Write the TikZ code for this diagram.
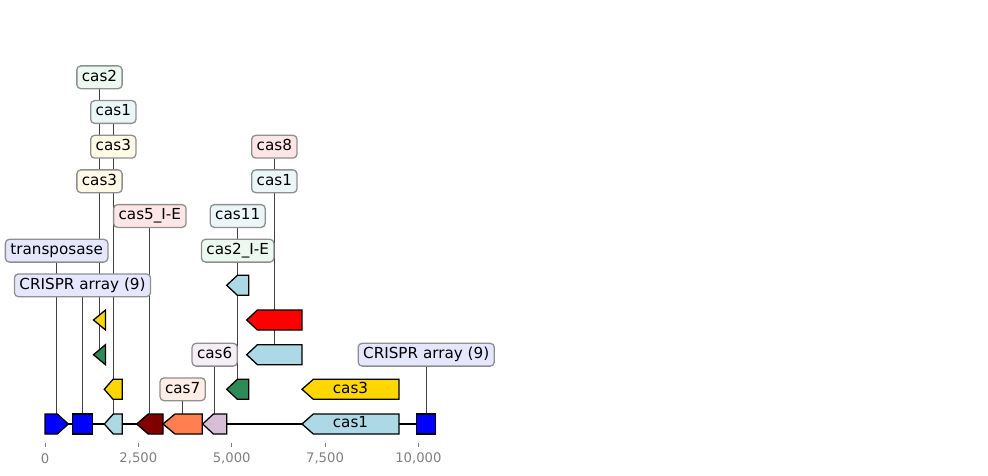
\documentclass[tikz,border=0pt]{standalone}
\usepackage{fontspec}
\setmainfont{DejaVu Sans}
\pgfdeclarelayer{bg}
\pgfsetlayers{bg,main}
\definecolor{fblue}{HTML}{0000FF}
\definecolor{flightblue}{HTML}{ADD8E6}
\definecolor{fmaroon}{HTML}{800000}
\definecolor{fcoral}{HTML}{FF7F50}
\definecolor{fthistle}{HTML}{D8BFD8}
\definecolor{fgold}{HTML}{FFD700}
\definecolor{fgreen}{HTML}{2E8B57}
\definecolor{fred}{HTML}{FF0000}
\definecolor{bblue}{HTML}{E6E6FF}
\definecolor{blightblue}{HTML}{EBF6F9}
\definecolor{bmaroon}{HTML}{FFE6E6}
\definecolor{bcoral}{HTML}{FFEDE6}
\definecolor{bthistle}{HTML}{F5EFF5}
\definecolor{bgold}{HTML}{FFFAE6}
\definecolor{bgreen}{HTML}{ECF9F1}
\definecolor{bred}{HTML}{FFE6E6}
\definecolor{boxedge}{HTML}{8F8F8F}
\definecolor{tickgray}{HTML}{808080}
\newcommand{\revfeat}[6]{%
  \draw[featline,fill=#6] (#2,#4) -- ({#2+#5},{#4-10}) -- (#3,{#4-10}) -- (#3,{#4+10}) -- ({#2+#5},{#4+10}) -- cycle;
  \coordinate (#1) at ({(#2+#3)/2},#4);}
\newcommand{\fwdfeat}[6]{%
  \draw[featline,fill=#6] (#2,{#4-10}) -- ({#3-#5},{#4-10}) -- (#3,#4) -- ({#3-#5},{#4+10}) -- (#2,{#4+10}) -- cycle;
  \coordinate (#1) at ({(#2+#3)/2},#4);}
\newcommand{\boxfeat}[5]{%
  \draw[featline,fill=#5] (#2,{#4-10}) rectangle (#3,{#4+10});
  \coordinate (#1) at ({(#2+#3)/2},#4);}
\tikzset{
  featline/.style={draw=black,line width=1.3pt,line join=miter},
  lab/.style={draw=boxedge,line width=1.3pt,rounded corners=4pt,inner xsep=5pt,inner ysep=4pt,
    text height=11.2pt,text depth=3.6pt,font=\fontsize{15.2}{18}\selectfont},
  inl/.style={inner sep=0pt,text height=11.2pt,text depth=3.6pt,font=\fontsize{15.2}{18}\selectfont},
  conn/.style={draw=black!75,line width=0.8pt},
  seqline/.style={draw=black,line width=2pt},
  ticklab/.style={text=tickgray,font=\fontsize{13.2}{16}\selectfont,inner sep=0pt},
  tickmark/.style={draw=tickgray,line width=1pt}
}
\begin{document}
\begin{tikzpicture}[x=1pt,y=-1pt]
\useasboundingbox (0,0) rectangle (988,476);
% sequence line
\coordinate (seqstart) at (45,424);
\coordinate (seqend) at (435.7,424);
\begin{pgfonlayer}{bg}
\draw[seqline] (seqstart) -- (seqend);
\end{pgfonlayer}
% row 1
\fwdfeat{fA}{45}{68.3}{424}{11}{fblue}
\boxfeat{fB}{72.7}{92.3}{424}{fblue}
\revfeat{fC}{104.3}{122.3}{424}{9}{flightblue}
\revfeat{fD}{136.7}{163}{424}{11.5}{fmaroon}
\revfeat{fE}{163}{202.3}{424}{12}{fcoral}
\revfeat{fF}{202.7}{226.7}{424}{10.7}{fthistle}
\revfeat{fG}{302}{399}{424}{11.3}{flightblue}
\boxfeat{fH}{416.7}{435.7}{424}{fblue}
% row 2
\revfeat{gA}{104.3}{122.3}{389.3}{8.7}{fgold}
\revfeat{gB}{226.7}{248.7}{389.3}{10.7}{fgreen}
\revfeat{gC}{302}{399}{389.3}{11.3}{fgold}
% row 3
\revfeat{hA}{93.5}{105.5}{354.7}{12}{fgreen}
\revfeat{hB}{246.7}{302}{354.7}{10.7}{flightblue}
% row 4
\revfeat{iA}{93.5}{105.5}{320}{12}{fgold}
\revfeat{iB}{246.7}{302}{320}{10.7}{fred}
% row 5
\revfeat{jA}{226.7}{248.7}{285.3}{10.7}{flightblue}
% inline labels
\node[inl] (tG) at (fG) {cas1};
\node[inl] (tgC) at (gC) {cas3};
% labels
\node[lab,fill=bgreen] (l1) at (99.5,77.3) {cas2};
\node[lab,fill=blightblue] (l2) at (113.3,112) {cas1};
\node[lab,fill=bgold] (l3) at (113.3,146.7) {cas3};
\node[lab,fill=bgold] (l4) at (99.5,181.3) {cas3};
\node[lab,fill=bmaroon] (l5) at (149.85,216) {cas5\_I-E};
\node[lab,fill=bblue] (l6) at (56.65,250.7) {transposase};
\node[lab,fill=bblue] (l7) at (82.5,285.3) {CRISPR array (9)};
\node[lab,fill=bred] (l8) at (274.35,146.7) {cas8};
\node[lab,fill=blightblue] (l9) at (274.35,181.3) {cas1};
\node[lab,fill=blightblue] (l10) at (237.7,216) {cas11};
\node[lab,fill=bgreen] (l11) at (237.7,250.7) {cas2\_I-E};
\node[lab,fill=bthistle] (l12) at (214.7,354.7) {cas6};
\node[lab,fill=bcoral] (l13) at (182.65,389.3) {cas7};
\node[lab,fill=bblue] (l14) at (426.2,354.7) {CRISPR array (9)};
\begin{pgfonlayer}{bg}
\draw[conn] (l1) -- (l1 |- hA);
\draw[conn] (l2) -- (l2 |- fC);
\draw[conn] (l3) -- (l3 |- gA);
\draw[conn] (l4) -- (l4 |- iA);
\draw[conn] (l5) -- (l5 |- fD);
\draw[conn] (l6) -- (l6 |- fA);
\draw[conn] (l7) -- (l7 |- fB);
\draw[conn] (l8) -- (l8 |- iB);
\draw[conn] (l9) -- (l9 |- hB);
\draw[conn] (l10) -- (l10 |- jA);
\draw[conn] (l11) -- (l11 |- gB);
\draw[conn] (l12) -- (l12 |- fF);
\draw[conn] (l13) -- (l13 |- fE);
\draw[conn] (l14) -- (l14 |- fH);
\end{pgfonlayer}
% axis
\foreach \v/\t [count=\i] in {0/0,2500/{2,500},5000/{5,000},7500/{7,500},10000/{10,000}}{
  \coordinate (tk\i) at ({45+\v*0.0373333},442.5);
  \coordinate (tkb\i) at ({45+\v*0.0373333},447);
  \draw[tickmark] (tk\i) -- (tkb\i);
  \node[ticklab,anchor=center] (tl\i) at ({45+\v*0.0373333},458.5) {\t};
}
\end{tikzpicture}
\end{document}
